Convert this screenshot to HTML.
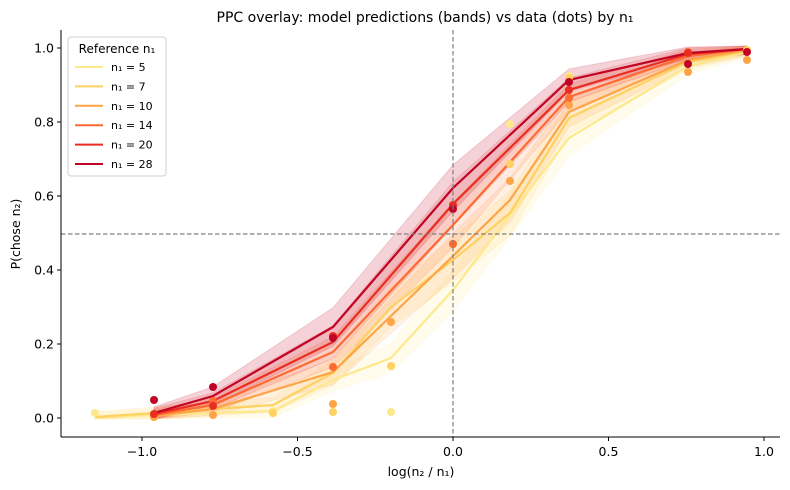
<!DOCTYPE html>
<html><head><meta charset="utf-8"><style>
body{margin:0;background:#fff}
svg{display:block;font-family:"DejaVu Sans","Liberation Sans",sans-serif}
</style></head><body>
<svg id="s" width="790" height="490" viewBox="0 0 790 490" xmlns="http://www.w3.org/2000/svg">
<rect width="790" height="490" fill="#fff"/>
<text x="425" y="22" font-size="14" text-anchor="middle" fill="#000">PPC overlay: model predictions (bands) vs data (dots) by n₁</text>
<g id="bands"></g>
<g id="lines"></g>
<g id="dots"></g>
<line x1="453" y1="30" x2="453" y2="437" stroke="#808080" stroke-width="1.2" stroke-dasharray="4.5,2.5"/>
<line x1="61" y1="234" x2="780" y2="234" stroke="#808080" stroke-width="1.2" stroke-dasharray="4.5,2.5"/>
<line x1="61" y1="30" x2="61" y2="437" stroke="#000" stroke-width="1"/>
<line x1="61" y1="437" x2="780" y2="437" stroke="#000" stroke-width="1"/>
<g font-size="12.5" fill="#000" id="ticks"></g>
<text x="421" y="476" font-size="12.5" text-anchor="middle">log(n₂ / n₁)</text>
<text transform="translate(20,234) rotate(-90)" font-size="12.5" text-anchor="middle">P(chose n₂)</text>
<rect x="68" y="37" width="98" height="139" rx="3" fill="#fff" fill-opacity="0.85" stroke="#d0d0d0"/>
<text x="117" y="53" font-size="12" text-anchor="middle">Reference n₁</text>
<g id="leg" font-size="11"></g>
</svg>
<script>
var ns="http://www.w3.org/2000/svg",s=document.getElementById('s');
function el(p,t,a,txt){var e=document.createElementNS(ns,t);for(var k in a)e.setAttribute(k,a[k]);if(txt!=null)e.textContent=txt;document.getElementById(p).appendChild(e);return e;}
var S=[
{n:5,c:"#fee88c",x:[95,154,273,333,391,453,510,569,688,747],y:[418,415,411,380,358,290,215,138,66,52]},
{n:7,c:"#fed160",x:[95,154,273,333,391,453,510,569,688,747],y:[417,413,405,373,307,260,213,118,62,51]},
{n:10,c:"#fea446",x:[154,213,333,453,510,569,688,747],y:[416,409,372,256,200,112,60,50]},
{n:14,c:"#fd6a32",x:[154,213,333,453,569,688,747],y:[415,405,352,225,97,56,49]},
{n:20,c:"#ea2d21",x:[154,213,333,453,569,688,747],y:[414,401,342,204,90,54,49]},
{n:28,c:"#c10425",x:[154,213,333,453,569,688,747],y:[413,396,327,188,80,53,49]}];
var D=[
[[95,413],[154,416],[273,411],[391,412],[510,124],[569,76]],
[[154,417],[273,413],[333,412],[391,366],[510,164],[569,78],[747,50]],
[[154,417],[213,415],[333,404],[391,322],[453,244],[510,181],[569,105],[688,72],[747,60]],
[[213,401],[333,367],[453,244],[569,98],[688,52]],
[[154,414],[213,406],[333,336],[453,205],[569,90],[688,53]],
[[154,400],[213,387],[333,338],[453,209],[569,82],[688,64],[747,52]]];
S.forEach(function(s,i){
 var up=[],dn=[],pts=[];
 for(var j=0;j<s.x.length;j++){var y=s.y[j],p=(418-y)/370,w=5+70*p*(1-p)*(i==5?1.1:1);
  up.push(s.x[j]+","+Math.max(46,y-w));dn.unshift(s.x[j]+","+Math.min(419,y+w));pts.push(s.x[j]+","+y);}
 el('bands','polygon',{points:up.concat(dn).join(' '),fill:s.c,'fill-opacity':i==5?0.18:0.15,stroke:s.c,'stroke-opacity':0.15});
 el('lines','polyline',{points:pts.join(' '),fill:'none',stroke:s.c,'stroke-width':2.2});
 D[i].forEach(function(d){el('dots','circle',{cx:d[0],cy:d[1],r:4,fill:s.c});});
 var ly=67+i*19.4;
 el('leg','line',{x1:75,x2:103,y1:ly,y2:ly,stroke:s.c,'stroke-width':2});
 el('leg','text',{x:111,y:ly+4},'n₁ = '+s.n);
});
[[-1,"−1.0"],[-0.5,"−0.5"],[0,"0.0"],[0.5,"0.5"],[1,"1.0"]].forEach(function(t){var x=453+t[0]*311;
 el('ticks','line',{x1:x,x2:x,y1:437,y2:441,stroke:'#000'});el('ticks','text',{x:x,y:456,'text-anchor':'middle'},t[1]);});
for(var k=0;k<=5;k++){var y=418-k*74;el('ticks','line',{x1:57,x2:61,y1:y,y2:y,stroke:'#000'});
 el('ticks','text',{x:54,y:y+4.5,'text-anchor':'end'},(k*0.2).toFixed(1));}
</script>
</body></html>
